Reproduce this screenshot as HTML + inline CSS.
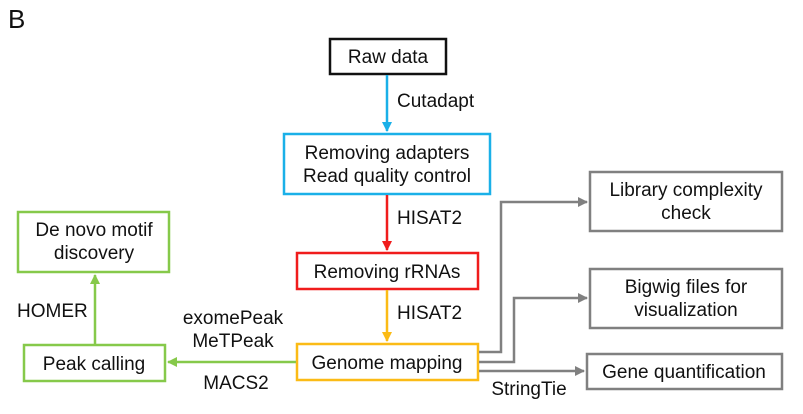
<!DOCTYPE html>
<html><head><style>body{margin:0;background:#fff}</style></head><body>
<svg width="803" height="409" xmlns="http://www.w3.org/2000/svg" font-family="Liberation Sans, Arial, sans-serif" font-size="19" fill="#111">
<defs>
<marker id="ab" markerWidth="10" markerHeight="10" refX="9" refY="5" orient="auto" markerUnits="userSpaceOnUse"><path d="M0,0 L10,5 L0,10z" fill="#1ab0e8"/></marker>
<marker id="ar" markerWidth="10" markerHeight="10" refX="9" refY="5" orient="auto" markerUnits="userSpaceOnUse"><path d="M0,0 L10,5 L0,10z" fill="#f01c1c"/></marker>
<marker id="ay" markerWidth="10" markerHeight="10" refX="9" refY="5" orient="auto" markerUnits="userSpaceOnUse"><path d="M0,0 L10,5 L0,10z" fill="#fbbb16"/></marker>
<marker id="ag" markerWidth="10" markerHeight="10" refX="9" refY="5" orient="auto" markerUnits="userSpaceOnUse"><path d="M0,0 L10,5 L0,10z" fill="#86c94a"/></marker>
<marker id="aa" markerWidth="10" markerHeight="10" refX="9" refY="5" orient="auto" markerUnits="userSpaceOnUse"><path d="M0,0 L10,5 L0,10z" fill="#808080"/></marker>
</defs>
<text x="8" y="28" font-size="26">B</text>
<g fill="none" stroke-width="2.5">
<rect x="330" y="39" width="116" height="35" stroke="#111"/>
<rect x="284" y="134" width="206" height="60" stroke="#1ab0e8"/>
<rect x="297" y="253" width="181" height="36" stroke="#f01c1c"/>
<rect x="297" y="344" width="181" height="36" stroke="#fbbb16"/>
<rect x="18" y="212" width="151" height="60" stroke="#86c94a"/>
<rect x="24" y="345" width="141" height="36" stroke="#86c94a"/>
<rect x="590" y="172" width="192" height="59" stroke="#808080"/>
<rect x="590" y="269" width="192" height="59" stroke="#808080"/>
<rect x="587" y="354" width="195" height="35" stroke="#808080"/>
<line x1="387" y1="75" x2="387" y2="131" stroke="#1ab0e8" marker-end="url(#ab)"/>
<line x1="387" y1="195" x2="387" y2="250" stroke="#f01c1c" marker-end="url(#ar)"/>
<line x1="387" y1="290" x2="387" y2="341" stroke="#fbbb16" marker-end="url(#ay)"/>
<line x1="296" y1="362" x2="168" y2="362" stroke="#86c94a" marker-end="url(#ag)"/>
<line x1="95" y1="344" x2="95" y2="275" stroke="#86c94a" marker-end="url(#ag)"/>
<polyline points="479,352 501,352 501,202 587,202" stroke="#808080" marker-end="url(#aa)"/>
<polyline points="479,362 514,362 514,298 587,298" stroke="#808080" marker-end="url(#aa)"/>
<line x1="479" y1="371" x2="584" y2="371" stroke="#808080" marker-end="url(#aa)"/>
</g>
<g text-anchor="middle">
<text x="388" y="63">Raw data</text>
<text x="387" y="159">Removing adapters</text>
<text x="387" y="182">Read quality control</text>
<text x="387" y="278">Removing rRNAs</text>
<text x="387" y="369">Genome mapping</text>
<text x="94" y="236">De novo motif</text>
<text x="94" y="259">discovery</text>
<text x="94" y="370">Peak calling</text>
<text x="686" y="196">Library complexity</text>
<text x="686" y="219">check</text>
<text x="686" y="293">Bigwig files for</text>
<text x="686" y="316">visualization</text>
<text x="684" y="378">Gene quantification</text>
<text x="233" y="324">exomePeak</text>
<text x="233" y="347">MeTPeak</text>
<text x="236" y="389">MACS2</text>
<text x="529" y="395">StringTie</text>
</g>
<text x="397" y="107">Cutadapt</text>
<text x="397" y="224">HISAT2</text>
<text x="397" y="319">HISAT2</text>
<text x="17" y="317">HOMER</text>
</svg>
</body></html>
